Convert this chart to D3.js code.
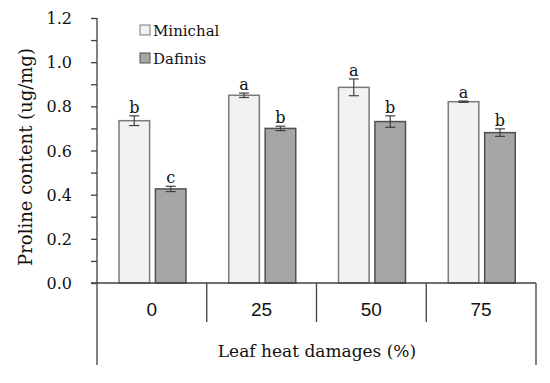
<!DOCTYPE html>
<html><head><meta charset="utf-8">
<script src="https://cdn.jsdelivr.net/npm/d3@7"></script>
<style>body{margin:0;background:#fff}</style>
</head><body>
<svg id="c" width="550" height="383"></svg>
<script>
const categories = ["0", "25", "50", "75"];
const seriesNames = ["Minichal", "Dafinis"];
const minichal = [0.735, 0.850, 0.886, 0.821];
const dafinis = [0.426, 0.700, 0.731, 0.681];
const minichalErr = [0.022, 0.010, 0.038, 0.003];
const dafinisErr = [0.012, 0.010, 0.026, 0.017];
const minichalLetters = ["b", "a", "a", "a"];
const dafinisLetters = ["c", "b", "b", "b"];
const yTicks = [0, 0.2, 0.4, 0.6, 0.8, 1.0, 1.2];

const serif = "'DejaVu Serif','Palatino Linotype',Palatino,serif";
const sans = "'Liberation Sans',Arial,sans-serif";
const fills = ["#f2f2f2", "#a6a6a6"];
const strokes = ["#7a7a7a", "#505050"];

const svg = d3.select("#c");
const L = 97, R = 536, T = 18, B = 283;
const y = d3.scaleLinear().domain([0, 1.2]).range([B, T]);
const x0 = d3.scaleBand().domain(categories).range([L, R]).paddingInner(0).paddingOuter(0);
const x1 = d3.scaleBand().domain(seriesNames).range([22, 89]).paddingInner(0.16);

const data = [
  {vals: minichal, err: minichalErr, let: minichalLetters},
  {vals: dafinis, err: dafinisErr, let: dafinisLetters}
];

// y axis
const yAxis = d3.axisLeft(y).tickValues(d3.range(0, 1.21, 0.1)).tickSize(6)
  .tickFormat(d => { const r = Math.round(d*10); return r % 2 === 0 ? (r/10).toFixed(1) : ""; });
const ya = svg.append("g").attr("transform", `translate(${L},0)`).call(yAxis);
ya.select(".domain").remove();
ya.selectAll(".tick line").attr("stroke", "#404040").attr("stroke-width", 1.3);
ya.selectAll(".tick text").attr("font-family", serif).attr("font-size", 16).attr("fill", "#111")
  .attr("x", -25).attr("dy", "0.35em");

// bars
seriesNames.forEach((s, si) => {
  const g = svg.append("g");
  const d = data[si];
  categories.forEach((c, i) => {
    const bx = x0(c) + x1(s), bw = x1.bandwidth();
    g.append("rect").attr("x", bx).attr("y", y(d.vals[i])).attr("width", bw)
      .attr("height", y(0) - y(d.vals[i])).attr("fill", fills[si])
      .attr("stroke", strokes[si]).attr("stroke-width", 1.5);
    const cx = bx + bw/2;
    const e1 = y(d.vals[i] + d.err[i]), e2 = y(d.vals[i] - d.err[i]);
    g.append("line").attr("x1", cx).attr("x2", cx).attr("y1", e1).attr("y2", e2).attr("stroke", "#404040").attr("stroke-width", 1.2);
    [e1, e2].forEach(ey => g.append("line").attr("x1", cx-5).attr("x2", cx+5).attr("y1", ey).attr("y2", ey).attr("stroke", "#404040").attr("stroke-width", 1.2));
    g.append("text").attr("x", cx).attr("y", e1 - 3).attr("text-anchor", "middle")
      .attr("font-family", serif).attr("font-size", 16).attr("fill", "#111").text(d.let[i]);
  });
});

// axes lines
const axc = "#404040";
svg.append("line").attr("x1", L).attr("x2", L).attr("y1", T).attr("y2", 365).attr("stroke", axc).attr("stroke-width", 1.3);
svg.append("line").attr("x1", L-6).attr("x2", R).attr("y1", B).attr("y2", B).attr("stroke", axc).attr("stroke-width", 1.3);
svg.append("line").attr("x1", R).attr("x2", R).attr("y1", B).attr("y2", 365).attr("stroke", axc).attr("stroke-width", 1.3);
categories.slice(1).forEach(c => {
  svg.append("line").attr("x1", x0(c)).attr("x2", x0(c)).attr("y1", B).attr("y2", 322).attr("stroke", axc).attr("stroke-width", 1.3);
});
categories.forEach(c => {
  svg.append("text").attr("x", x0(c) + x0.bandwidth()/2).attr("y", 316).attr("text-anchor", "middle")
    .attr("font-family", sans).attr("font-size", 19).attr("fill", "#111").text(c);
});

// titles
svg.append("text").attr("x", 317).attr("y", 357).attr("text-anchor", "middle")
  .attr("font-family", serif).attr("font-size", 17).attr("fill", "#111").text("Leaf heat damages (%)");
svg.append("text").attr("transform", "translate(32,157) rotate(-90)").attr("text-anchor", "middle")
  .attr("font-family", serif).attr("font-size", 18).attr("fill", "#111").text("Proline content (ug/mg)");

// legend
seriesNames.forEach((s, i) => {
  const ly = 25 + i*28;
  svg.append("rect").attr("x", 140).attr("y", ly).attr("width", 10).attr("height", 10)
    .attr("fill", fills[i]).attr("stroke", strokes[i]).attr("stroke-width", 1);
  svg.append("text").attr("x", 153).attr("y", ly + 10.5).attr("font-family", serif).attr("font-size", 15)
    .attr("fill", "#111").text(s);
});
</script>
</body></html>
